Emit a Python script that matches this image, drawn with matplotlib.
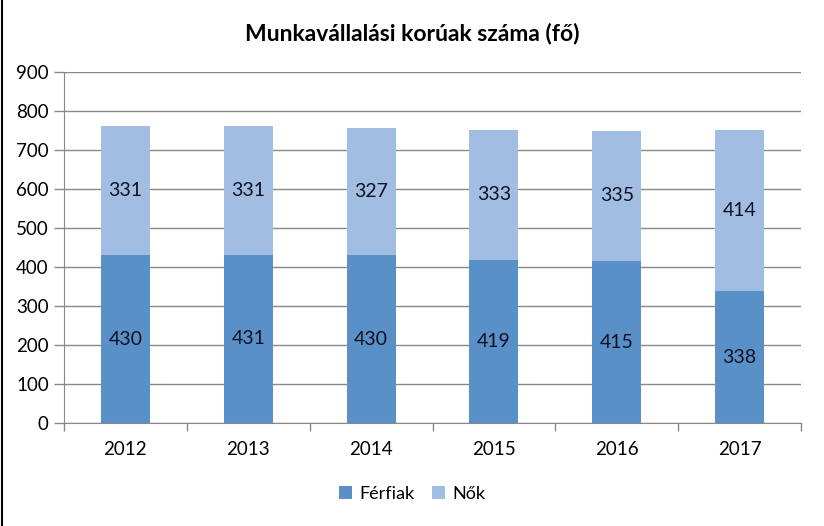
import matplotlib
matplotlib.use("Agg")
import matplotlib.pyplot as plt
import numpy as np

years = ["2012", "2013", "2014", "2015", "2016", "2017"]
ferfiak = [430, 431, 430, 419, 415, 338]
nok = [331, 331, 327, 333, 335, 414]
title = "Munkavállalási korúak száma (fő)"

plt.rcParams['font.family'] = ['Lato', 'DejaVu Sans']

c_dark = "#5990C8"
c_light = "#A1BEE2"

fig = plt.figure(figsize=(8.24, 5.26), dpi=100)
ax = fig.add_axes([64/824, 103/526, (801-64)/824, (423-72)/526])

x = np.arange(len(years))
w = 0.4
b1 = ax.bar(x, ferfiak, w, color=c_dark, label="Férfiak", zorder=3)
b2 = ax.bar(x, nok, w, bottom=ferfiak, color=c_light, label="Nők", zorder=3)

for i in range(len(years)):
    ax.text(x[i], ferfiak[i] / 2, str(ferfiak[i]), ha="center", va="center",
            fontsize=14, color="#111122", zorder=4)
    ax.text(x[i], ferfiak[i] + nok[i] / 2, str(nok[i]), ha="center", va="center",
            fontsize=14, color="#111122", zorder=4)

ax.set_xlim(-0.5, len(years) - 0.5)
ax.set_ylim(0, 900)
ax.set_yticks(range(0, 901, 100))
ax.set_xticks(x)
ax.set_xticklabels(years)
ax.set_xticks(np.arange(-0.5, len(years), 1), minor=True)
ax.tick_params(axis="x", which="major", length=0, pad=13, labelsize=13.5)
ax.tick_params(axis="x", which="minor", length=6, color="#888888", width=1)
ax.tick_params(axis="y", length=7, color="#888888", width=1, labelsize=13.5, pad=4)
ax.yaxis.grid(True, color="#888888", linewidth=1, zorder=0)
for s in ["top", "right"]:
    ax.spines[s].set_visible(False)
ax.spines["left"].set_color("#888888")
ax.spines["bottom"].set_color("#888888")

fig.text(0.5, 1 - 33/526, title, ha="center", va="center",
         fontsize=16.5, fontweight="bold", color="#000000")

fig.legend(handles=[b1, b2], labels=["Férfiak", "Nők"], loc="center",
           bbox_to_anchor=(0.5, 1 - 494/526), ncol=2, frameon=False,
           fontsize=13, handlelength=0.7, handleheight=0.7,
           handletextpad=0.4, columnspacing=1.0)

# left border line
fig.add_artist(plt.Line2D([2/824, 2/824], [0, 1], transform=fig.transFigure,
                          color="black", linewidth=1.5))

fig.savefig("out.png", dpi=100)
